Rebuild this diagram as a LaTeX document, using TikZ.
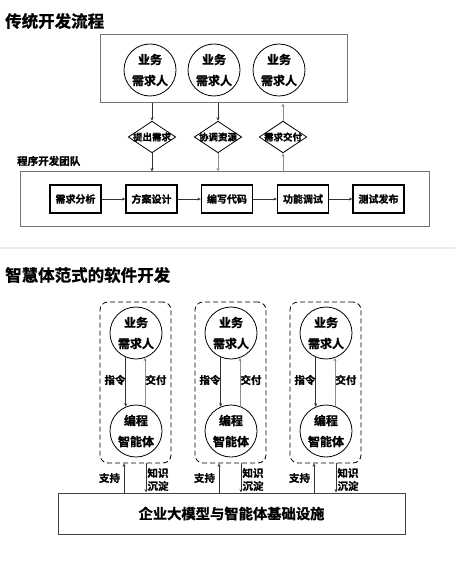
\documentclass[tikz,border=0pt]{standalone}
\usepackage{fontspec}
\setmainfont{Noto Sans CJK SC}[BoldFont={Noto Sans CJK SC Bold}, BoldFeatures={FakeBold=1.2}]
\usetikzlibrary{shapes.geometric,arrows.meta}
\tikzset{
  fsz/.style={font=\bfseries\fontsize{#1}{#1}\selectfont},
  title/.style={anchor=west, inner sep=0pt, fsz=16.5},
  outerbox/.style={draw=black!55, line width=1pt, inner sep=0pt},
  person/.style={circle, draw, line width=0.8pt, minimum size=52pt, inner sep=0pt, align=center, font=\bfseries\fontsize{12}{21}\selectfont},
  decision/.style={diamond, draw, line width=0.8pt, inner xsep=-2pt, inner ysep=0pt, aspect=1.5, fsz=9.5},
  stepbox/.style={draw, line width=1.2pt, minimum width=51pt, minimum height=28pt, inner sep=0pt, fsz=10},
  group/.style={draw, dash pattern=on 5pt off 3pt, rounded corners=8pt, line width=0.8pt, minimum width=71pt, minimum height=161pt, inner sep=0pt},
  lbl/.style={inner sep=0pt, align=center, font=\bfseries\fontsize{10.5}{13}\selectfont},
  arr/.style={-{Stealth[length=3.5pt,width=3pt]}, line width=0.6pt, draw=black!80},
  garr/.style={-{Stealth[length=3.5pt,width=3pt]}, line width=0.8pt, draw=black!45},
}
\begin{document}
\begin{tikzpicture}[x=1pt, y=-1pt]
\useasboundingbox (0,0) rectangle (455,561);
% ---------- top part ----------
\node[title] (t1) at (5,21) {传统开发流程};
\node[outerbox, minimum width=247pt, minimum height=68pt] (topbox) at (223.5,69) {};
\node[person] (p1) at (150,70) {业务\\需求人};
\node[person] (p2) at (214,70) {业务\\需求人};
\node[person] (p3) at (279,70) {业务\\需求人};
\node[decision] (d1) at (152,137) {提出需求};
\node[decision] (d2) at (218,137) {协调资源};
\node[decision] (d3) at (283,137) {需求交付};
\node[anchor=west, inner sep=0pt, fsz=10.5] (team) at (17,161) {程序开发团队};
\node[outerbox, minimum width=409pt, minimum height=54pt] (teambox) at (224.5,199) {};
\node[stepbox] (s1) at (75.5,199) {需求分析};
\node[stepbox] (s2) at (151.5,199) {方案设计};
\node[stepbox] (s3) at (227,199) {编写代码};
\node[stepbox] (s4) at (303,199) {功能调试};
\node[stepbox] (s5) at (378.5,199) {测试发布};
\draw[arr] (d1.north |- topbox.south) -- (d1.north);
\draw[arr] (d2.north |- topbox.south) -- (d2.north);
\draw[garr] (d3.north) -- (d3.north |- topbox.south);
\draw[arr] (d1.south) -- (d1.south |- teambox.north);
\draw[garr] (d2.south) -- (d2.south |- teambox.north);
\draw[garr] (d3.south |- teambox.north) -- (d3.south);
\draw[arr] (s1) -- (s2);
\draw[arr] (s2) -- (s3);
\draw[arr] (s3) -- (s4);
\draw[arr] (s4) -- (s5);
% separator
\coordinate (sepL) at (0,248);
\coordinate (sepR) at (455,248);
\draw[black!8, line width=1.5pt] (sepL) -- (sepR);
% ---------- bottom part ----------
\node[title] (t2) at (5,275) {智慧体范式的软件开发};
\node[outerbox, draw=black!75, minimum width=347pt, minimum height=41pt, fsz=14.3] (base) at (231.5,513.5) {企业大模型与智能体基础设施};
\foreach \i/\cx in {1/136, 2/231, 3/326} {
  \node[group] (g\i) at (\cx-0.5,382.5) {};
  \node[person] (u\i) at (\cx,333) {业务\\需求人};
  \node[person] (a\i) at (\cx,431) {编程\\智能体};
  \draw[arr] (u\i.247) -- (a\i.113);
  \draw[garr] (a\i.70) -- (u\i.290);
  \node[lbl] (cmd\i) at (\cx-21,380) {指令};
  \node[lbl] (del\i) at (\cx+20,380) {交付};
  \path (g\i.south) ++(-11.5,0) coordinate (su\i);
  \path (g\i.south) ++(10.5,0) coordinate (kd\i);
  \draw[arr] (su\i |- base.north) -- (su\i);
  \draw[arr] (kd\i) -- (kd\i |- base.north);
  \node[lbl] (sup\i) at (\cx-26.5,478) {支持};
  \node[lbl] (kn\i) at (\cx+22,479.5) {知识\\沉淀};
}
\end{tikzpicture}
\end{document}
